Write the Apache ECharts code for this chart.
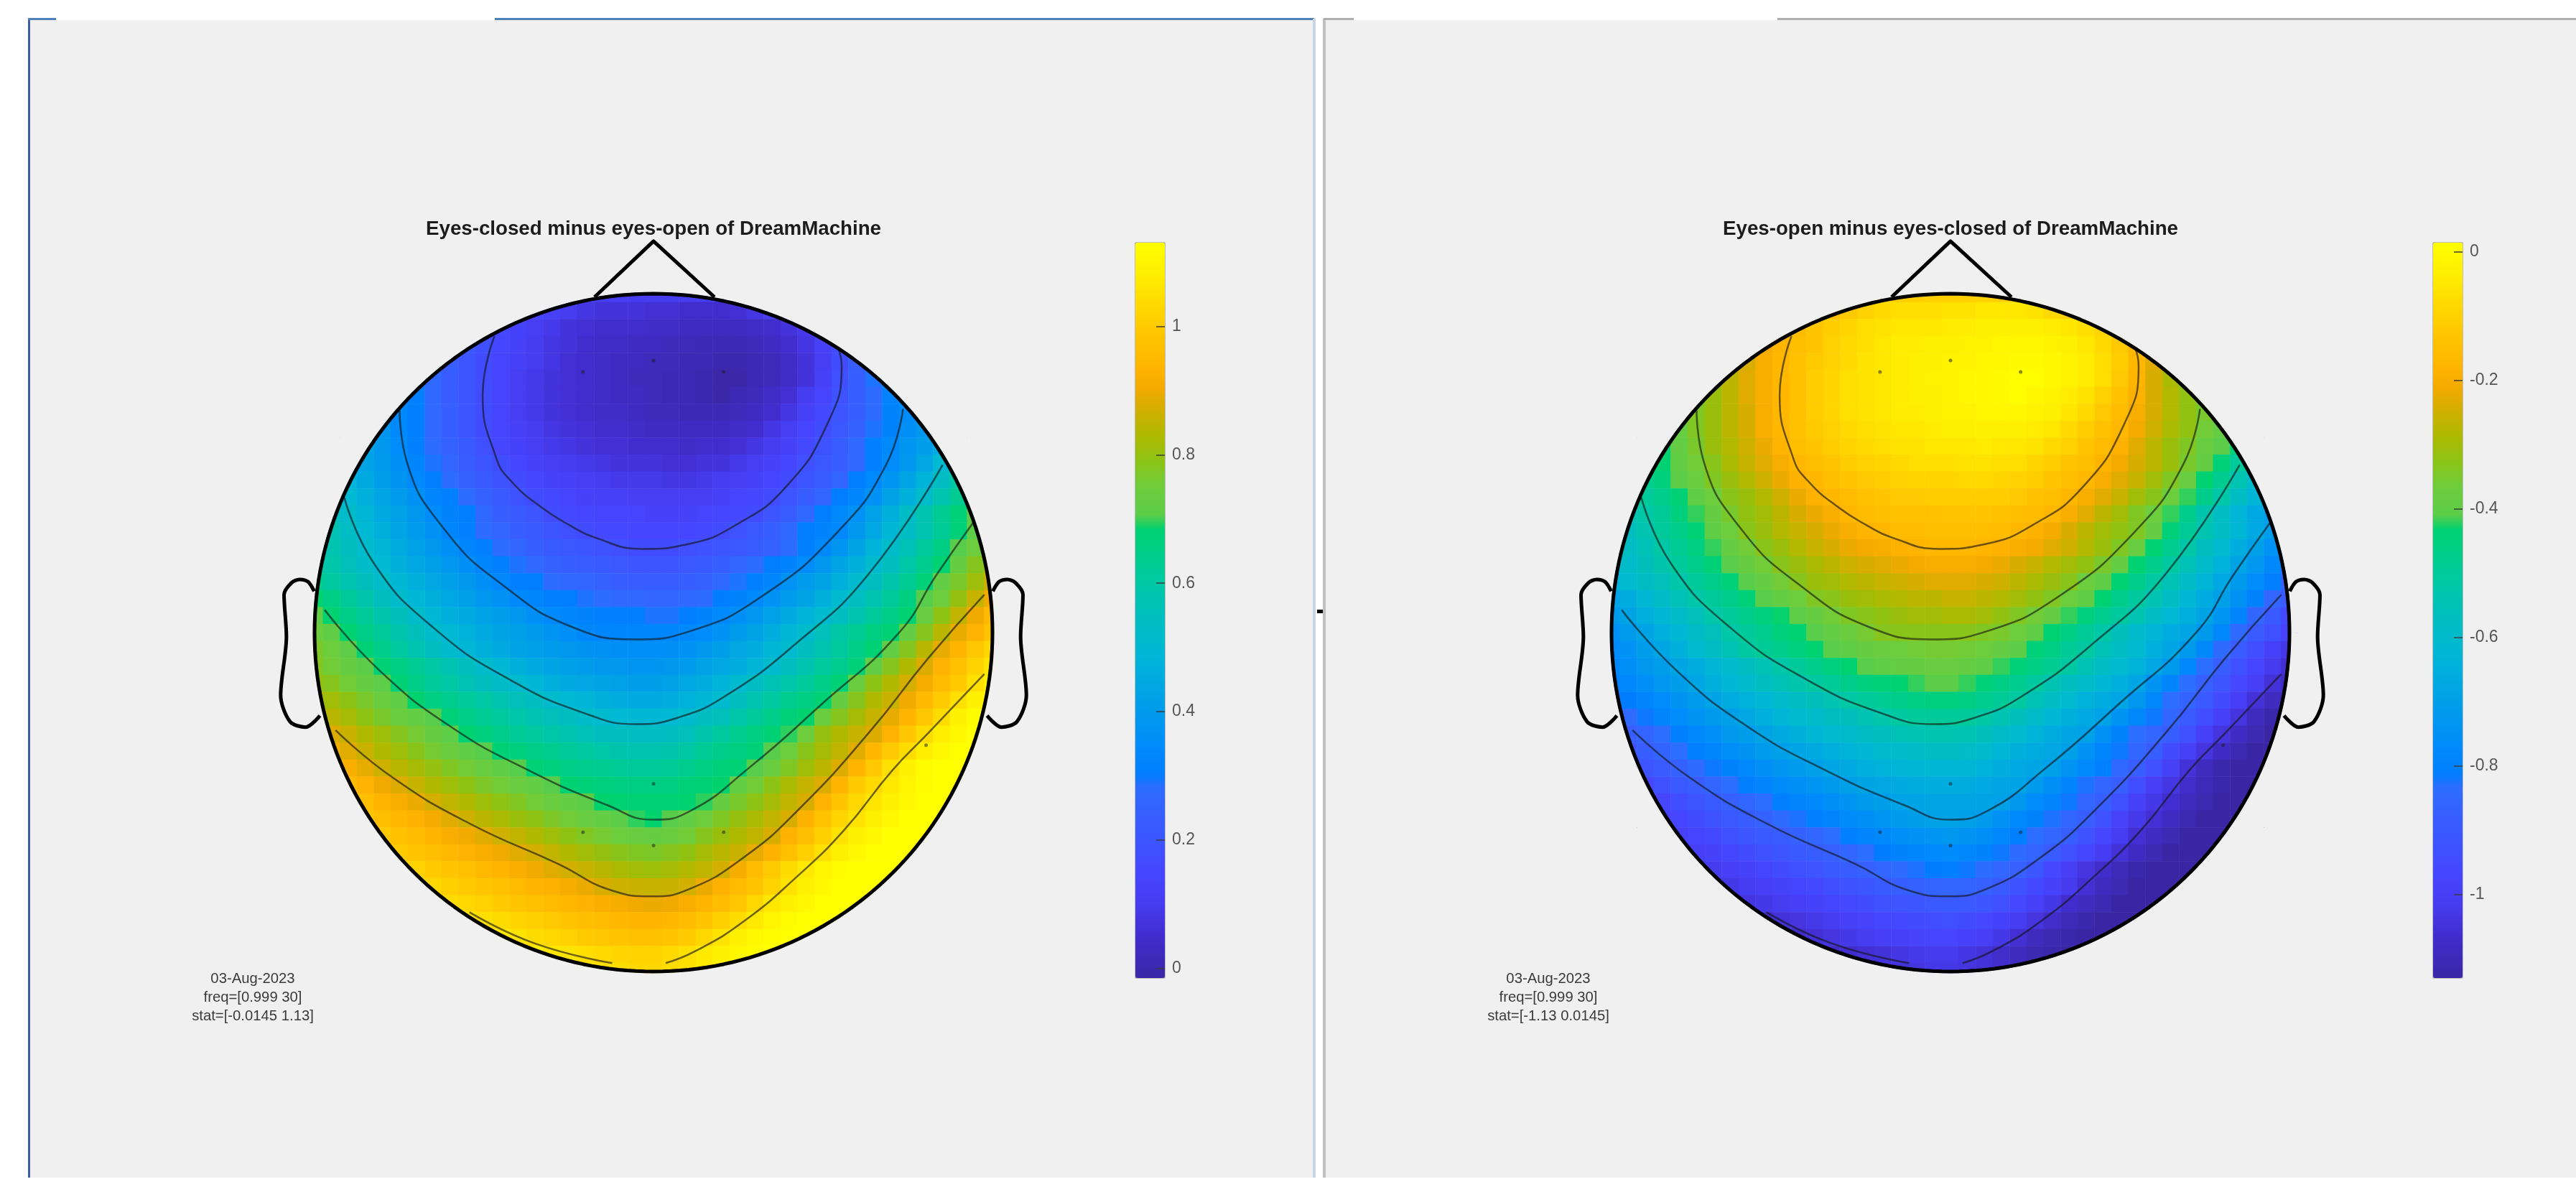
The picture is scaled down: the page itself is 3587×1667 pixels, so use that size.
<!DOCTYPE html>
<html><head><meta charset="utf-8"><title>DreamMachine topographies</title>
<style>html,body{margin:0;padding:0;background:#fff}#c{width:3587px;height:1667px}</style>
<script src="https://cdn.jsdelivr.net/npm/echarts@6/dist/echarts.min.js"></script></head>
<body><div id="c"></div><script>
// Scalp map, one row per 0.05 of head radius, each row centred on the midline.
const rowP100=[.12,.11,.11,.10,.10,.10,.10,.11,.12];
const rowP095=[.17,.14,.12,.10,.08,.07,.07,.07,.06,.06,.05,.05,.05,.06,.08,.10,.13];
const rowP090=[.19,.16,.13,.11,.09,.07,.06,.05,.05,.05,.04,.04,.03,.03,.03,.03,.04,.05,.07,.09,.12];
const rowP085=[.24,.21,.18,.15,.13,.10,.08,.07,.05,.04,.04,.03,.03,.02,.02,.01,.01,.01,.02,.03,.05,.08,.12,.17,.22];
const rowP080=[.27,.24,.20,.17,.14,.12,.10,.08,.06,.05,.04,.03,.03,.02,.02,.01,.01,0,0,.01,.02,.04,.07,.11,.17,.23,.28];
const rowP075=[.31,.27,.23,.20,.17,.14,.11,.09,.07,.06,.05,.04,.03,.02,.02,.01,.01,0,-.01,-.01,.01,.02,.04,.07,.12,.18,.24,.29,.34];
const rowP070=[.34,.31,.27,.23,.20,.17,.14,.11,.09,.07,.06,.05,.04,.03,.03,.02,.01,.01,0,-.01,.01,.02,.04,.06,.10,.14,.19,.24,.28,.32,.35];
const rowP065=[.38,.34,.31,.27,.24,.20,.17,.14,.11,.09,.07,.06,.05,.04,.04,.03,.02,.02,.01,.01,.01,.02,.03,.05,.08,.12,.16,.20,.24,.28,.32,.35,.39];
const rowP060=[.42,.38,.34,.31,.27,.24,.20,.17,.14,.12,.10,.08,.07,.06,.05,.05,.04,.03,.03,.03,.03,.03,.04,.05,.08,.11,.14,.17,.21,.25,.29,.32,.36,.39,.43];
const rowP055=[.47,.43,.39,.35,.31,.28,.25,.22,.18,.15,.13,.11,.09,.08,.07,.06,.06,.05,.05,.05,.04,.05,.05,.06,.08,.10,.13,.16,.19,.23,.27,.31,.34,.38,.41,.45,.48];
const rowP050=[.47,.43,.395,.36,.33,.29,.26,.23,.20,.17,.15,.13,.11,.10,.09,.08,.07,.07,.07,.06,.06,.07,.07,.09,.11,.13,.15,.18,.21,.24,.27,.31,.35,.39,.44,.50,.54];
const rowP045=[.52,.48,.45,.41,.375,.34,.31,.28,.25,.22,.19,.17,.15,.13,.12,.11,.10,.09,.09,.09,.08,.08,.09,.10,.11,.13,.15,.17,.20,.23,.26,.30,.34,.38,.43,.48,.54,.60,.65];
const rowP040=[.535,.50,.47,.435,.40,.365,.33,.31,.28,.25,.22,.19,.17,.16,.14,.13,.12,.12,.11,.11,.11,.11,.11,.12,.14,.15,.17,.20,.23,.26,.30,.33,.37,.42,.47,.52,.58,.63,.68];
const rowP035=[.55,.52,.49,.45,.42,.385,.35,.32,.30,.27,.24,.22,.20,.17,.16,.15,.14,.14,.14,.13,.13,.13,.14,.15,.16,.17,.20,.23,.27,.30,.34,.37,.42,.47,.53,.58,.63,.67,.71];
const rowP030=[.60,.57,.535,.50,.47,.435,.40,.365,.33,.31,.28,.26,.24,.22,.20,.18,.17,.16,.16,.15,.15,.15,.15,.16,.17,.19,.21,.24,.27,.30,.32,.34,.39,.44,.49,.535,.58,.625,.67,.71,.75];
const rowP025=[.61,.58,.55,.515,.485,.455,.42,.39,.36,.33,.31,.28,.26,.24,.22,.21,.20,.19,.18,.17,.17,.17,.18,.19,.20,.21,.23,.25,.28,.31,.34,.38,.43,.48,.52,.565,.61,.655,.70,.745,.79];
const rowP020=[.62,.59,.56,.53,.50,.47,.44,.415,.385,.36,.33,.31,.29,.27,.25,.24,.23,.22,.21,.20,.20,.20,.21,.22,.24,.26,.28,.30,.32,.35,.39,.43,.47,.51,.55,.595,.64,.685,.73,.78,.83];
const rowP015=[.64,.61,.58,.555,.525,.495,.47,.44,.415,.39,.36,.335,.31,.30,.28,.27,.26,.25,.24,.23,.23,.23,.24,.25,.27,.29,.31,.33,.37,.40,.43,.47,.51,.545,.587,.63,.673,.72,.765,.81,.86];
const rowP010=[.69,.655,.62,.585,.55,.52,.495,.47,.44,.415,.39,.365,.34,.33,.31,.30,.29,.28,.27,.27,.26,.26,.27,.28,.30,.32,.34,.37,.40,.43,.47,.505,.54,.58,.62,.66,.70,.75,.80,.855,.90];
const rowP005=[.72,.685,.65,.62,.585,.555,.52,.495,.47,.45,.425,.405,.385,.36,.34,.33,.32,.31,.30,.30,.29,.29,.30,.32,.34,.36,.39,.42,.45,.48,.505,.54,.58,.615,.65,.685,.735,.79,.85,.90,.95];
const rowZ000=[.75,.715,.685,.65,.62,.585,.555,.52,.495,.475,.45,.43,.415,.395,.375,.355,.335,.33,.33,.33,.33,.33,.34,.35,.37,.40,.43,.46,.49,.52,.56,.60,.63,.66,.68,.72,.78,.84,.89,.93,.98];
const rowM005=[.77,.745,.71,.68,.645,.61,.58,.545,.51,.49,.47,.45,.43,.415,.40,.385,.375,.365,.36,.355,.355,.36,.37,.39,.41,.44,.46,.49,.51,.55,.58,.61,.65,.68,.72,.78,.84,.89,.94,.99,1.03];
const rowM010=[.78,.755,.73,.705,.68,.655,.63,.60,.575,.55,.52,.495,.47,.45,.43,.415,.40,.39,.385,.38,.38,.39,.40,.42,.44,.46,.485,.51,.545,.58,.61,.64,.675,.72,.78,.83,.88,.93,.97,1.02,1.06];
const rowM015=[.80,.78,.755,.73,.71,.68,.65,.62,.60,.57,.55,.53,.51,.49,.47,.45,.44,.43,.42,.41,.41,.42,.44,.46,.48,.505,.54,.57,.59,.62,.65,.68,.74,.79,.83,.87,.91,.96,1.0,1.05,1.08];
const rowM020=[.84,.815,.79,.765,.74,.715,.69,.66,.64,.62,.60,.58,.56,.54,.515,.50,.485,.47,.46,.45,.45,.46,.475,.49,.51,.55,.58,.61,.64,.66,.68,.73,.78,.83,.86,.90,.95,1.0,1.05,1.09,1.10];
const rowM025=[.87,.84,.82,.79,.765,.74,.72,.70,.675,.65,.63,.61,.59,.575,.56,.54,.525,.51,.50,.495,.495,.50,.515,.54,.56,.59,.62,.645,.67,.69,.74,.78,.82,.855,.89,.94,.99,1.04,1.09,1.12,1.13];
const rowM030=[.89,.88,.86,.83,.81,.78,.76,.73,.71,.685,.665,.645,.625,.61,.595,.58,.565,.55,.54,.535,.535,.54,.56,.585,.61,.635,.66,.68,.695,.75,.80,.83,.855,.88,.93,.99,1.04,1.08,1.11,1.13,1.13];
const rowM035=[.91,.885,.86,.83,.81,.785,.76,.74,.715,.70,.68,.665,.65,.635,.62,.605,.595,.585,.58,.58,.585,.60,.625,.645,.66,.675,.70,.745,.785,.82,.85,.885,.945,.995,1.04,1.08,1.11,1.13,1.13];
const rowM040=[.95,.92,.89,.865,.84,.82,.80,.775,.755,.735,.715,.70,.68,.665,.65,.64,.63,.625,.62,.62,.625,.64,.655,.67,.68,.70,.74,.775,.81,.845,.88,.935,.995,1.05,1.09,1.12,1.13,1.13,1.13];
const rowM045=[.98,.96,.93,.90,.88,.855,.83,.81,.79,.77,.755,.735,.72,.70,.685,.675,.665,.66,.655,.655,.66,.67,.68,.69,.72,.755,.79,.825,.855,.88,.94,1.0,1.035,1.07,1.10,1.12,1.13,1.13,1.13];
const rowM050=[.98,.965,.94,.915,.895,.87,.85,.83,.81,.79,.775,.755,.74,.72,.705,.69,.685,.68,.68,.68,.685,.695,.73,.765,.79,.82,.85,.875,.93,.985,1.03,1.06,1.09,1.11,1.13,1.13,1.13];
const rowM055=[1.0,.985,.965,.945,.925,.905,.885,.865,.84,.825,.805,.79,.77,.755,.735,.72,.705,.695,.69,.70,.72,.75,.775,.80,.825,.85,.875,.925,.98,1.025,1.055,1.085,1.11,1.13,1.13,1.13,1.13];
const rowM060=[1.02,.995,.975,.955,.935,.915,.90,.885,.865,.85,.83,.81,.79,.775,.76,.745,.735,.73,.74,.755,.78,.805,.83,.85,.875,.925,.965,1.01,1.055,1.085,1.11,1.13,1.13,1.13,1.13];
const rowM065=[1.02,1.0,.985,.965,.95,.93,.915,.90,.885,.87,.85,.83,.815,.80,.785,.775,.77,.78,.795,.82,.84,.86,.89,.93,.97,1.01,1.05,1.085,1.11,1.13,1.13,1.13,1.13];
const rowM070=[1.04,1.02,1.0,.985,.97,.95,.935,.92,.90,.885,.87,.855,.84,.825,.815,.81,.82,.835,.85,.87,.91,.96,1.0,1.04,1.07,1.10,1.12,1.13,1.13,1.13,1.13];
const rowM075=[1.04,1.03,1.01,1.0,.985,.97,.955,.94,.925,.91,.895,.875,.865,.86,.855,.86,.87,.895,.925,.955,.985,1.02,1.055,1.09,1.11,1.13,1.13,1.13,1.13];
const rowM080=[1.06,1.04,1.03,1.015,1.0,.985,.97,.955,.945,.93,.92,.91,.90,.895,.90,.915,.935,.96,.99,1.03,1.065,1.09,1.11,1.13,1.13,1.13,1.13];
const rowM085=[1.08,1.07,1.05,1.04,1.025,1.01,.995,.98,.965,.955,.945,.94,.935,.945,.96,.985,1.01,1.04,1.07,1.10,1.12,1.13,1.13,1.13,1.13];
const rowM090=[1.09,1.07,1.055,1.04,1.03,1.015,1.0,.99,.98,.975,.975,.985,1.0,1.03,1.055,1.09,1.11,1.12,1.13,1.13,1.13];
const rowM095=[1.09,1.08,1.065,1.055,1.045,1.035,1.025,1.02,1.02,1.035,1.05,1.07,1.09,1.11,1.12,1.13,1.13];
const rowM100=[1.06,1.05,1.04,1.03,1.03,1.04,1.05,1.07,1.09];
const rowsTopToBottom=[rowP100,rowP095,rowP090,rowP085,rowP080,rowP075,rowP070,rowP065,rowP060,rowP055,rowP050,rowP045,rowP040,rowP035,rowP030,rowP025,rowP020,rowP015,rowP010,rowP005,rowZ000,rowM005,rowM010,rowM015,rowM020,rowM025,rowM030,rowM035,rowM040,rowM045,rowM050,rowM055,rowM060,rowM065,rowM070,rowM075,rowM080,rowM085,rowM090,rowM095,rowM100];

// Contour lines [x, y] in head radii
const contour1=[[-.469,.875],[-.504,.70],[-.464,.515],[-.42,.447],[-.33,.369],[-.244,.315],[-.174,.281],[-.034,.247],[.107,.262],[.247,.32],[.388,.427],[.511,.612],[.555,.787],[.546,.836]];
const contour2=[[-.749,.655],[-.728,.505],[-.613,.30],[-.438,.135],[-.244,.018],[-.051,-.02],[.107,.004],[.318,.106],[.546,.30],[.686,.495],[.736,.66]];
const contour3=[[-.912,.398],[-.824,.203],[-.65,.015],[-.42,-.141],[-.192,-.242],[-.051,-.27],[.072,-.251],[.212,-.187],[.423,-.03],[.634,.172],[.853,.495]];
const contour4=[[-.97,.067],[-.807,-.113],[-.596,-.279],[-.367,-.407],[-.139,-.508],[0,-.552],[.107,-.527],[.283,-.398],[.493,-.214],[.722,-.003],[.836,.172],[.947,.33]];
const contour5=[[-.938,-.288],[-.772,-.426],[-.543,-.563],[-.28,-.683],[-.122,-.761],[-.007,-.778],[.107,-.756],[.265,-.664],[.423,-.527],[.634,-.297],[.81,-.076],[.976,.112]];
const contour6a=[[-.543,-.825],[-.35,-.917],[-.122,-.975]];
const contour6b=[[.036,-.975],[.123,-.94],[.265,-.853],[.423,-.72],[.563,-.582],[.704,-.407],[.81,-.297],[.976,-.122]];
const contours=[contour1,contour2,contour3,contour4,contour5,contour6a,contour6b];
// Electrode markers
const electrodes=[[0,.803],[-.208,.769],[.207,.769],[0,-.446],[-.208,-.589],[.207,-.589],[0,-.628],[.804,-.332]];
// Head outline parts
const noseLine=[[-.174,.99],[0,1.155],[.18,.99]];
const earLine=[[-1.001,.122],[-1.019,.150],[-1.044,.157],[-1.068,.147],[-1.09,.112],[-1.083,-.012],[-1.10,-.185],[-1.072,-.263],[-1.026,-.279],[-.984,-.245]];

// Colour bars
const ticksLeft=[0,.2,.4,.6,.8,1];
const ticksRight=[-1,-.8,-.6,-.4,-.2,0];
const statLeft=[-.0145,1.13];
const statRight=[-1.13,.0145];
const titleLeft='Eyes-closed minus eyes-open of DreamMachine';
const titleRight='Eyes-open minus eyes-closed of DreamMachine';
const noteLeft='03-Aug-2023\nfreq=[0.999 30]\nstat=[-0.0145 1.13]';
const noteRight='03-Aug-2023\nfreq=[0.999 30]\nstat=[-1.13 0.0145]';

// Colormap as seen on the left colour bar: [value, r, g, b]
const cmap=[[-.0145,58,38,165],[0,60,40,175],[.05,65,45,205],[.10,70,60,240],[.15,70,70,255],[.20,60,85,255],[.24,55,95,255],[.285,45,110,255],[.30,0,125,255],[.35,0,140,250],[.40,0,155,235],[.45,0,170,225],[.50,0,185,210],[.55,0,190,190],[.60,0,200,165],[.65,0,205,135],[.69,0,210,110],[.70,90,205,75],[.75,110,205,60],[.79,140,195,20],[.83,175,185,0],[.87,210,175,0],[.90,240,170,0],[.93,255,178,0],[.98,255,195,0],[1.03,255,215,0],[1.08,255,238,0],[1.13,255,255,0]];
const palette=[];
for(let i=0;i<=229;i++){
  const v=statLeft[0]+(statLeft[1]-statLeft[0])*i/229;
  let k=0; while(k<cmap.length-2&&cmap[k+1][0]<v)k++;
  const a=cmap[k],b=cmap[k+1],f=Math.min(1,Math.max(0,(v-a[0])/(b[0]-a[0])));
  palette.push(`rgb(${[1,2,3].map(j=>Math.round(a[j]+(b[j]-a[j])*f)).join(',')})`);
}

// Layout
const R=472, CY=881, CXL=910, CXR=2716, N=41;
const cats=Array.from({length:N},(_,i)=>(-1+i*.05).toFixed(2));
const heatHalf=1.025*R, lineHalf=1.2*R;
function cellData(sign){
  const out=[];
  rowsTopToBottom.forEach((row,r)=>{
    const off=(N-row.length)/2;
    row.forEach((v,c)=>out.push([c+off,N-1-r,sign*v]));
  });
  return out;
}
const circle=[],mask=[];
for(let i=0;i<=240;i++){
  const a=i/240*2*Math.PI;
  circle.push([Math.cos(a),Math.sin(a)]);
  mask.push([1.047*Math.cos(a),1.047*Math.sin(a)]);
}
const grids=[],xAxes=[],yAxes=[],series=[];
function panel(cx,sign){
  const gh=grids.length;
  grids.push({left:cx-heatHalf,top:CY-heatHalf,width:2*heatHalf,height:2*heatHalf,show:false});
  xAxes.push({gridIndex:gh,type:'category',data:cats,show:false});
  yAxes.push({gridIndex:gh,type:'category',data:cats,show:false});
  const gl=grids.length;
  grids.push({left:cx-lineHalf,top:CY-lineHalf,width:2*lineHalf,height:2*lineHalf,show:false});
  xAxes.push({gridIndex:gl,type:'value',min:-1.2,max:1.2,show:false});
  yAxes.push({gridIndex:gl,type:'value',min:-1.2,max:1.2,show:false});
  series.push({type:'heatmap',xAxisIndex:gh,yAxisIndex:gh,data:cellData(sign),z:1,silent:true,itemStyle:{borderWidth:0},emphasis:{disabled:true},progressive:0});
  const line=(data,z,style,smooth)=>series.push({type:'line',xAxisIndex:gl,yAxisIndex:gl,data,z,silent:true,showSymbol:false,symbol:'none',lineStyle:style,smooth:smooth||false,clip:false});
  line(mask,2,{color:'#f0f0f0',width:40});
  contours.forEach(c=>line(c,3,{color:'rgba(20,20,20,.62)',width:2.5},.5));
  series.push({type:'scatter',xAxisIndex:gl,yAxisIndex:gl,data:electrodes,z:4,silent:true,symbolSize:5,itemStyle:{color:'rgba(30,30,30,.65)'}});
  const head={color:'#000',width:5,join:'round'};
  line(circle,5,head);
  line(noseLine,5,head);
  line(earLine,5,head,.3);
  line(earLine.map(p=>[-p[0],p[1]]),5,head,.3);
}
panel(CXL,1);
const heatRightIndex=series.length;
panel(CXR,-1);

function colorbar(left,stat,ticks){
  const g=grids.length;
  grids.push({left,top:338,width:41,height:1024,show:true,backgroundColor:'transparent',borderColor:'#8a8a8a',borderWidth:1});
  xAxes.push({gridIndex:g,type:'value',min:0,max:1,show:false});
  yAxes.push({gridIndex:g,type:'value',position:'right',min:stat[0],max:stat[1],z:10,splitLine:{show:false},
    axisLine:{show:false,onZero:false},
    axisTick:{show:true,inside:true,length:12,customValues:ticks,lineStyle:{color:'rgba(60,60,60,.75)',width:2}},
    axisLabel:{show:true,inside:false,margin:10,customValues:ticks,fontFamily:'Liberation Sans',fontSize:23,color:'#555'}});
  return {type:'continuous',min:stat[0],max:stat[1],left,top:338,itemWidth:41,itemHeight:1024,padding:0,calculable:false,hoverLink:false,text:null,z:2};
}
const vmL=colorbar(1581,statLeft,ticksLeft);
const vmR=colorbar(3388,statRight,ticksRight);
const visualMaps=[
  Object.assign(vmL,{seriesIndex:0,inRange:{color:palette}}),
  Object.assign(vmR,{seriesIndex:heatRightIndex,inRange:{color:palette}})
];
const noteFont='20.3px "Liberation Sans"';
const titleStyle={fontFamily:'Liberation Sans',fontWeight:'bold',fontSize:27.7,color:'#1c1c1c'};
const option={
  animation:false,backgroundColor:'#ffffff',
  title:[
    {text:titleLeft,left:CXL,top:305,textAlign:'center',textStyle:titleStyle,padding:0},
    {text:titleRight,left:CXR,top:305,textAlign:'center',textStyle:titleStyle,padding:0}
  ],
  grid:grids,xAxis:xAxes,yAxis:yAxes,visualMap:visualMaps,series,
  graphic:{elements:[
    {type:'rect',silent:true,z:-10,shape:{x:40,y:28,width:1790,height:1612},style:{fill:'#f0f0f0'}},
    {type:'rect',silent:true,z:-10,shape:{x:1844,y:28,width:1743,height:1612},style:{fill:'#f0f0f0'}},
    {type:'rect',silent:true,z:-9,shape:{x:39,y:26,width:3,height:1614},style:{fill:'#3f5fa8'}},
    {type:'rect',silent:true,z:-9,shape:{x:39,y:25,width:39,height:3},style:{fill:'#4f80b8'}},
    {type:'rect',silent:true,z:-9,shape:{x:689,y:25,width:1141,height:3},style:{fill:'#4f80b8'}},
    {type:'rect',silent:true,z:-9,shape:{x:1828,y:26,width:4,height:1614},style:{fill:'#c8d4e4'}},
    {type:'rect',silent:true,z:-9,shape:{x:1842,y:26,width:4,height:1614},style:{fill:'#c0c0c0'}},
    {type:'rect',silent:true,z:-9,shape:{x:1843,y:25,width:42,height:3},style:{fill:'#b0b0b0'}},
    {type:'rect',silent:true,z:-9,shape:{x:2475,y:25,width:1112,height:3},style:{fill:'#b0b0b0'}},
    {type:'rect',silent:true,z:-8,shape:{x:1834,y:849,width:8,height:5},style:{fill:'#000'}},
    {type:'text',silent:true,z:6,style:{x:352,y:1350,text:noteLeft,align:'center',textAlign:'center',font:noteFont,lineHeight:26,fill:'#3a3a3a'}},
    {type:'text',silent:true,z:6,style:{x:2156,y:1350,text:noteRight,align:'center',textAlign:'center',font:noteFont,lineHeight:26,fill:'#3a3a3a'}}
  ]}
};
echarts.init(document.getElementById('c'),null,{renderer:'canvas'}).setOption(option);
</script></body></html>
